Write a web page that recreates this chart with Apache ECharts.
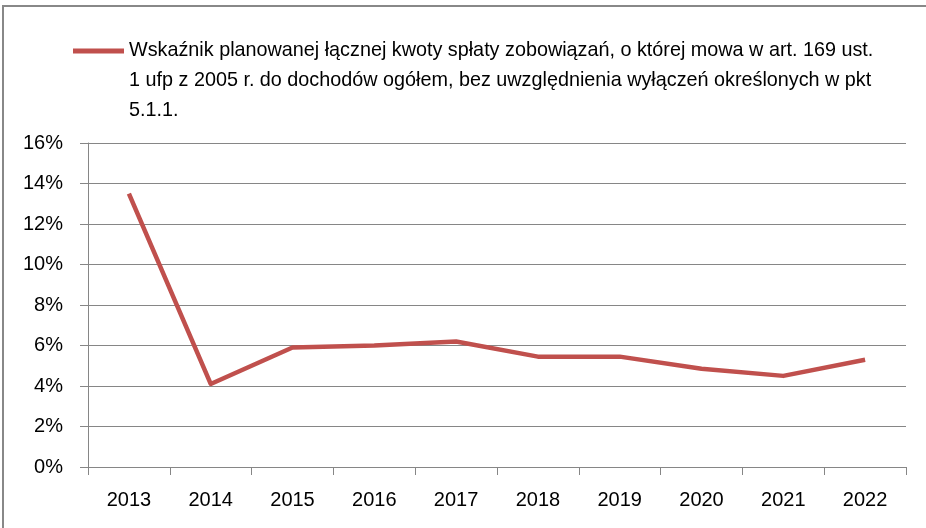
<!DOCTYPE html>
<html>
<head>
<meta charset="utf-8">
<script src="https://cdn.jsdelivr.net/npm/echarts@6/dist/echarts.min.js"></script>
<style>
  html, body { margin: 0; padding: 0; background: #fff; }
  #chart { width: 926px; height: 528px; }
</style>
</head>
<body>
<div id="chart"></div>
<script>
// dane
var lata = ["2013", "2014", "2015", "2016", "2017", "2018", "2019", "2020", "2021", "2022"];
var wskaznik = [13.5, 4.1, 5.9, 6.0, 6.2, 5.45, 5.45, 4.85, 4.5, 5.3];
var nazwaSerii = "Wskaźnik planowanej łącznej kwoty spłaty zobowiązań, o której mowa w art. 169 ust.\n1 ufp z 2005 r. do dochodów ogółem, bez uwzględnienia wyłączeń określonych w pkt\n5.1.1.";

var font = "'Liberation Sans', Arial, sans-serif";

document.addEventListener("DOMContentLoaded", () => {
  var chart = echarts.init(document.querySelector("#chart"));
  chart.setOption({
    animation: false,
    graphic: [
      {
        type: "rect",
        shape: { x: 3, y: 6, width: 1000, height: 600 },
        style: { fill: "none", stroke: "#888", lineWidth: 2 },
        silent: true
      }
    ],
    legend: {
      left: 68,
      top: 31,
      itemWidth: 51,
      itemHeight: 90,
      icon: "path://M0,0 L51,0 M0,12.5 L51,12.5 L51,17.5 L0,17.5 Z M0,90 L51,90",
      itemStyle: { borderWidth: 0 },
      textStyle: {
        fontFamily: font,
        fontSize: 19.8,
        lineHeight: 30,
        color: "#000"
      },
      data: [{ name: nazwaSerii, itemStyle: { color: "#c0504d", borderWidth: 0 } }]
    },
    grid: { left: 88, right: 20, top: 143, bottom: 61 },
    xAxis: {
      type: "category",
      data: lata,
      boundaryGap: true,
      axisLine: { lineStyle: { color: "#868686" } },
      axisTick: { show: true, length: 8, lineStyle: { color: "#868686" } },
      axisLabel: { fontFamily: font, fontSize: 20, color: "#000", margin: 23 }
    },
    yAxis: {
      type: "value",
      min: 0,
      max: 16,
      interval: 2,
      axisLine: { show: true, lineStyle: { color: "#868686" } },
      axisTick: { show: true, length: 8, lineStyle: { color: "#868686" } },
      axisLabel: { fontFamily: font, fontSize: 20, color: "#000", margin: 25, formatter: "{value}%" },
      splitLine: { lineStyle: { color: "#868686" } }
    },
    series: [
      {
        name: nazwaSerii,
        type: "line",
        data: wskaznik,
        symbol: "none",
        lineStyle: { color: "#c0504d", width: 4.5, join: "round" },
        itemStyle: { color: "#c0504d" }
      }
    ]
  });
});
</script>
</body>
</html>
